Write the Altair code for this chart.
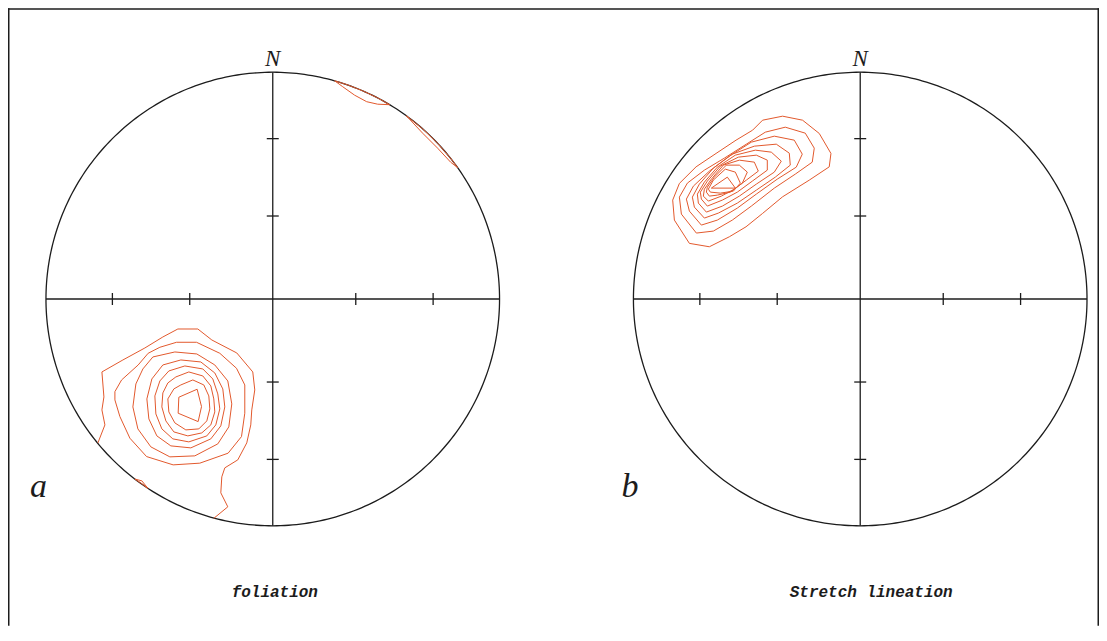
import altair as alt
import numpy as np
import pandas as pd

# ---------------- data (net units: primitive circle radius = 227, x east, y north) -------------
NET_RADIUS = 227
PANEL_CENTER_X = {"a": 0, "b": 588}
PANEL_TITLES = {"a": "foliation", "b": "Stretch lineation"}
PANEL_LETTERS = ["a", "b"]
TICK_PLUNGES = [30, 60]  # tick marks on the diameters (equal-area net)

# panel a : poles to foliation, density contours (first one open, reaching the primitive)
A_C1 = [(-175, -144), (-168, -126), (-171, -111), (-169, -98), (-171, -73), (-150, -61), (-128, -49),
        (-110, -38), (-95, -30), (-75, -30), (-61, -41), (-36, -54), (-20, -73), (-18, -91), (-21, -111),
        (-22, -126), (-26, -144), (-35, -161), (-48, -169), (-51, -178), (-52, -194), (-45, -208), (-59, -219.5)]
A_C2 = [(-158, -92.7), (-151.3, -81), (-134.7, -66), (-124.7, -54.3), (-113, -48.3), (-96.3, -43.3), (-76.3, -43.3),
        (-53, -54.3), (-36.3, -69.3), (-28, -86), (-28, -114.3), (-31.3, -137.7), (-44.7, -154.3), (-73, -164.3),
        (-99.7, -166), (-126.3, -157.7), (-143, -139.3), (-153, -117.7), (-158, -101)]
A_C3 = [(-120, -58), (-98, -53), (-76, -55), (-58, -66), (-45, -82), (-41, -105), (-44, -128), (-55, -145),
        (-78, -157), (-103, -158), (-122, -148), (-135, -130), (-140, -108), (-137, -85), (-130, -70)]
A_C4 = [(-110, -66), (-92, -61), (-72, -63), (-58, -74), (-50, -90), (-48, -108), (-52, -127), (-62, -140),
        (-82, -149), (-102, -147), (-116, -137), (-124, -120), (-126, -100), (-121, -80)]
A_C5 = [(-104, -72), (-88, -67), (-70, -70), (-60, -80), (-55, -95), (-53, -110), (-57, -126), (-66, -137),
        (-84, -143), (-100, -140), (-111, -130), (-117, -115), (-118, -97), (-113, -82)]
A_C6 = [(-97, -78), (-84, -73), (-70, -77), (-62, -87), (-59, -100), (-58, -113), (-62, -126), (-71, -134),
        (-85, -137), (-99, -133), (-107, -122), (-111, -108), (-110, -94), (-105, -84)]
A_C7 = [(-92, -86), (-80, -81), (-69, -86), (-64, -97), (-63, -110), (-66, -122), (-74, -130), (-87, -131),
        (-98, -124), (-104, -113), (-105, -100), (-99, -90)]
A_C8 = [(-94, -98.3), (-75.7, -90.3), (-71.3, -107.7), (-74.7, -122.7), (-94.7, -114.3)]
A_SW_EDGE = [(-138, -180.2), (-131, -182), (-125, -189.5), (-131, -184.9)]
A_NE_EDGE1 = [(62, 218.4), (70, 212.5), (82, 204), (94, 197.5), (105, 195), (117, 194.5),
              (105, 201.3), (90, 208.4), (75, 214.3)]
A_NE_EDGE2 = [(133.7, 183.4), (150, 166), (165, 151), (178, 137), (185, 131.5),
              (178, 140.9), (165, 155.9), (150, 170.4)]

# panel b : stretching lineations, density contours
B_C1 = [(-171, 55.7), (-186, 79), (-187.7, 99), (-181, 115.7), (-164.3, 132.3), (-144.3, 145.7), (-124.3, 159),
        (-107.7, 169), (-97.7, 179), (-77.7, 183), (-57.7, 179), (-41, 165.7), (-29.3, 145.7), (-31, 132.3),
        (-51, 119), (-77.7, 102.3), (-97.7, 85.7), (-114.3, 72.3), (-131, 62.3), (-151, 52.3)]
B_C2 = [(-164, 66), (-179, 85), (-181, 102), (-173, 116), (-156, 129), (-136, 141), (-114, 155), (-95, 167),
        (-75, 172), (-55, 166), (-46, 151), (-48, 137), (-65, 125), (-86, 111), (-109, 93), (-128, 79), (-147, 68)]
B_C3 = [(-159, 74), (-171, 88), (-174, 100), (-167, 113), (-151, 128), (-131, 143), (-109, 157), (-86, 163),
        (-66, 159), (-58, 145), (-64, 132), (-83, 120), (-104, 105), (-123, 91), (-143, 79)]
B_C4 = [(-156, 81), (-166, 92), (-168, 102), (-161, 115), (-147, 131), (-128, 145), (-106, 153), (-84, 155),
        (-71, 146), (-70, 134), (-85, 122), (-104, 109), (-123, 96), (-142, 86)]
B_C5 = [(-154, 87), (-162, 96), (-163, 105), (-156, 117), (-143, 132), (-125, 144), (-105, 149), (-89, 147),
        (-79, 138), (-86, 127), (-104, 115), (-121, 103), (-138, 93)]
B_C6 = [(-153, 93), (-159, 100), (-160, 107), (-153, 118), (-140, 133), (-122, 142), (-104, 144), (-93, 139),
        (-93, 129), (-108, 118), (-123, 107), (-138, 99)]
B_C7 = [(-152, 98), (-157, 103), (-156, 110), (-149, 120), (-137, 134), (-121, 139), (-106, 137), (-102, 128),
        (-114, 119), (-126, 110), (-139, 103)]
B_C8 = [(-151, 103), (-154, 107), (-153, 112), (-146, 122), (-134, 134), (-121, 134), (-113, 127), (-118, 116),
        (-130, 107), (-143, 104)]
B_C9 = [(-150, 107), (-152, 110), (-147, 119), (-135, 130), (-125, 127), (-120, 116), (-127, 108), (-140, 106)]
B_C10 = [(-149, 111), (-133, 122), (-125, 111)]

CONTOURS = [
    ("a", "a1", A_C1, False), ("a", "a2", A_C2, True), ("a", "a3", A_C3, True), ("a", "a4", A_C4, True),
    ("a", "a5", A_C5, True), ("a", "a6", A_C6, True), ("a", "a7", A_C7, True), ("a", "a8", A_C8, True),
    ("a", "a9", A_SW_EDGE, True), ("a", "a10", A_NE_EDGE1, True), ("a", "a11", A_NE_EDGE2, True),
    ("b", "b1", B_C1, True), ("b", "b2", B_C2, True), ("b", "b3", B_C3, True), ("b", "b4", B_C4, True),
    ("b", "b5", B_C5, True), ("b", "b6", B_C6, True), ("b", "b7", B_C7, True), ("b", "b8", B_C8, True),
    ("b", "b9", B_C9, True), ("b", "b10", B_C10, True),
]

# ---------------- layout ----------------
W, H = 1092, 618
CX_PX, CY_PX = 265, 291           # centre of net a inside the plot area (px)
XD = [-CX_PX, W - CX_PX]
YD = [CY_PX - H, CY_PX]
INK = "#1c1c1c"
ORANGE = "#E2582C"
TICK_HALF = 6

xs = alt.Scale(domain=XD, nice=False, zero=False)
ys = alt.Scale(domain=YD, nice=False, zero=False)

# contour table
rows = []
for panel, cid, pts, closed in CONTOURS:
    seq = list(pts) + ([pts[0]] if closed else [])
    for i, (x, y) in enumerate(seq):
        rows.append({"cid": cid, "i": i, "x": x + PANEL_CENTER_X[panel], "y": y})
cont_df = pd.DataFrame(rows)

# primitive circles
ang = np.linspace(0, 2 * np.pi, 361)
circ_rows = []
for p in PANEL_LETTERS:
    for i, t in enumerate(ang):
        circ_rows.append({"p": p, "i": i, "x": PANEL_CENTER_X[p] + NET_RADIUS * np.cos(t),
                          "y": NET_RADIUS * np.sin(t)})
circ_df = pd.DataFrame(circ_rows)

# diameters and ticks
seg = []
for p in PANEL_LETTERS:
    c = PANEL_CENTER_X[p]
    seg.append({"x": c - NET_RADIUS, "x2": c + NET_RADIUS, "y": 0, "y2": 0})
    seg.append({"x": c, "x2": c, "y": -NET_RADIUS, "y2": NET_RADIUS})
    for pl in TICK_PLUNGES:
        r = NET_RADIUS * np.sqrt(2) * np.sin(np.radians((90 - pl) / 2))
        for s in (-1, 1):
            seg.append({"x": c + s * r, "x2": c + s * r, "y": -TICK_HALF, "y2": TICK_HALF})
            seg.append({"x": c - TICK_HALF, "x2": c + TICK_HALF, "y": s * r, "y2": s * r})
seg_df = pd.DataFrame(seg)

north_df = pd.DataFrame([{"x": PANEL_CENTER_X[p], "y": 233, "t": "N"} for p in PANEL_LETTERS])
letter_df = pd.DataFrame([{"x": PANEL_CENTER_X[p] + off, "y": -198, "t": p}
                          for p, off in zip(PANEL_LETTERS, [-243, -239])])
title_df = pd.DataFrame([{"x": PANEL_CENTER_X[p] + off, "y": -298, "t": PANEL_TITLES[p]}
                         for p, off in zip(PANEL_LETTERS, [2, 11])])

X = lambda f="x": alt.X(f + ":Q", scale=xs, axis=None)
Y = lambda f="y": alt.Y(f + ":Q", scale=ys, axis=None)

circles = alt.Chart(circ_df).mark_line(color=INK, strokeWidth=1.3).encode(
    x=X(), y=Y(), detail="p:N", order="i:Q")
segments = alt.Chart(seg_df).mark_rule(color=INK, strokeWidth=1.3).encode(
    x=X(), y=Y(), x2="x2:Q", y2="y2:Q")
contours = alt.Chart(cont_df).mark_line(color=ORANGE, strokeWidth=1.0).encode(
    x=X(), y=Y(), detail="cid:N", order="i:Q")
north = alt.Chart(north_df).mark_text(font="Liberation Serif", fontStyle="italic", fontSize=23,
                                      color=INK, baseline="alphabetic", align="center").encode(
    x=X(), y=Y(), text="t:N")
letters = alt.Chart(letter_df).mark_text(font="Liberation Serif", fontStyle="italic", fontSize=34,
                                         color=INK, baseline="alphabetic", align="left").encode(
    x=X(), y=Y(), text="t:N")
titles = alt.Chart(title_df).mark_text(font="Liberation Mono", fontStyle="italic", fontWeight="bold",
                                       fontSize=16, color=INK, baseline="alphabetic", align="center").encode(
    x=X(), y=Y(), text="t:N")

frame = [
    alt.Chart(pd.DataFrame({"k": [0]})).mark_rule(color=INK, strokeWidth=1.5).encode(
        x=alt.value(0.75), y=alt.value(0), y2=alt.value(H)),
    alt.Chart(pd.DataFrame({"k": [0]})).mark_rule(color=INK, strokeWidth=1.5).encode(
        x=alt.value(0), x2=alt.value(W), y=alt.value(0.75)),
    alt.Chart(pd.DataFrame({"k": [0]})).mark_rule(color=INK, strokeWidth=1.5).encode(
        x=alt.value(W - 0.75), y=alt.value(0), y2=alt.value(H)),
]

chart = alt.layer(circles, segments, contours, north, letters, titles, *frame).properties(
    width=W, height=H, autosize="none", padding=0, background="white"
).configure_view(stroke=None)

chart.save("out.html", embed_options={"renderer": "svg", "actions": False})
